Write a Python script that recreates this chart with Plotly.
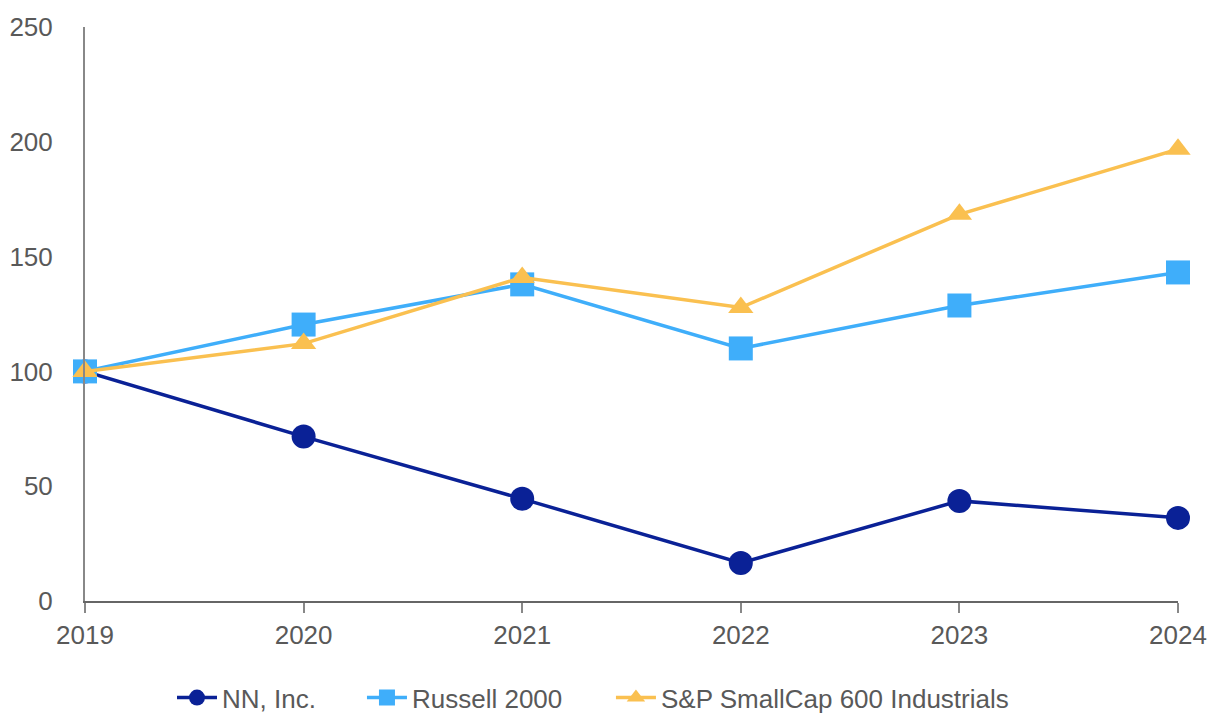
import plotly.graph_objects as go

years = [2019, 2020, 2021, 2022, 2023, 2024]
nn_inc = [100, 71.6, 44.5, 16.6, 43.6, 36.2]
russell_2000 = [100, 120.4, 137.9, 110.0, 128.7, 143.1]
sp600_ind = [100, 112.1, 140.9, 127.8, 168.4, 196.8]

series_names = ["NN, Inc.", "Russell 2000", "S&P SmallCap 600 Industrials"]
series_colors = ["#0A2196", "#3FAEFA", "#FAC050"]
series_symbols = ["circle", "square", "triangle-up"]
series_sizes = [24, 24, 22]
y_ticks = [0, 50, 100, 150, 200, 250]

legend_ids = ["legend", "legend2", "legend3"]
legend_x = [0.0796, 0.2534, 0.4812]

fig = go.Figure()
for name, vals, col, sym, sz, lg in zip(series_names, [nn_inc, russell_2000, sp600_ind],
                                        series_colors, series_symbols, series_sizes, legend_ids):
    fig.add_trace(go.Scatter(
        x=years, y=vals, name=name, mode="lines+markers",
        line=dict(color=col, width=3.5),
        marker=dict(symbol=sym, size=sz, color=col),
        cliponaxis=False, legend=lg,
    ))

legend_common = dict(orientation="h", y=-0.1685, yanchor="middle", xanchor="left",
                     font=dict(size=26, color="#595959"), itemwidth=40,
                     bgcolor="rgba(0,0,0,0)")

fig.update_layout(
    width=1208, height=713,
    margin=dict(l=85, r=30, t=27, b=112, autoexpand=False),
    plot_bgcolor="white", paper_bgcolor="white",
    font=dict(family="Liberation Sans, Arial, sans-serif", size=26, color="#595959"),
    showlegend=True,
    legend=dict(x=legend_x[0], **legend_common),
    legend2=dict(x=legend_x[1], **legend_common),
    legend3=dict(x=legend_x[2], **legend_common),
    xaxis=dict(range=[2019, 2024], tickvals=years, ticktext=[str(y) for y in years],
               showgrid=False, zeroline=False, showline=True, linecolor="#666666",
               linewidth=2, ticks="outside", ticklen=10, tickwidth=2, tickcolor="#888888",
               tickfont=dict(size=26, color="#595959"), automargin=False),
    yaxis=dict(range=[0, 250], tickvals=y_ticks, showgrid=False, zeroline=False,
               showline=True, linecolor="#888888", linewidth=2, ticks="",
               ticklabelstandoff=25, tickfont=dict(size=26, color="#595959"),
               automargin=False),
)

fig.write_html(
    "out.html",
    config={"displayModeBar": False},
    post_script="document.body.style.margin='0';document.body.style.overflow='hidden';",
)
